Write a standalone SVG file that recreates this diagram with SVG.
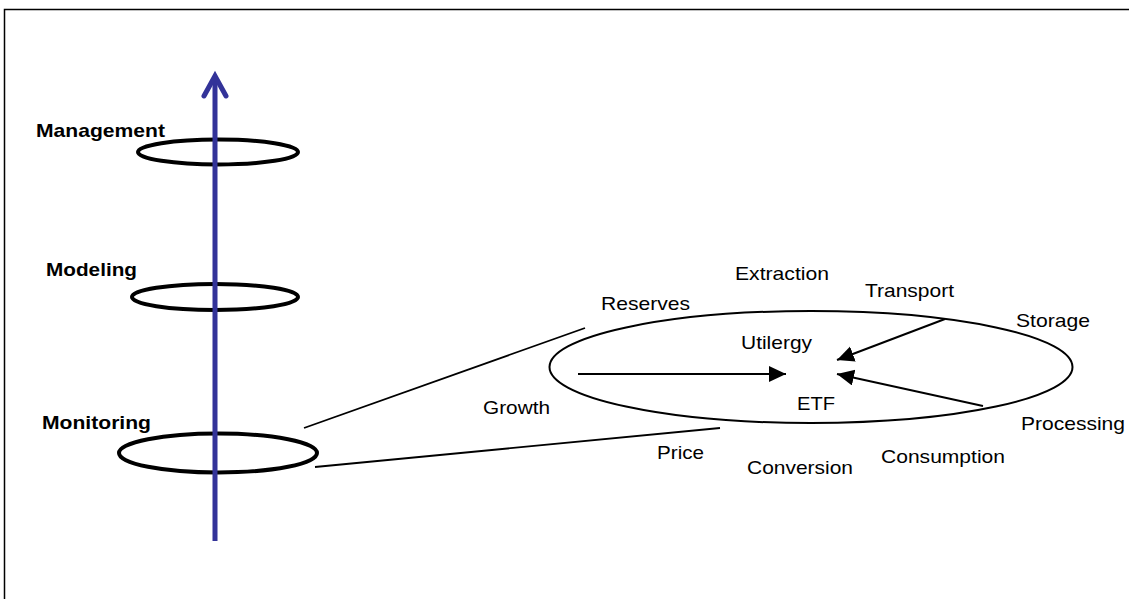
<svg xmlns="http://www.w3.org/2000/svg" width="1129" height="599" viewBox="0 0 1129 599">
  <style>
    .lbl { font-family: "Liberation Sans", Arial, sans-serif; font-size: 19px; fill: #000; }
    .bold { font-weight: bold; }
    .ring { fill: none; stroke: #000; stroke-width: 4; }
    .conn { fill: none; stroke: #000; stroke-width: 1.8; }
    .arr { fill: none; stroke: #000; stroke-width: 2; }
  </style>
  <defs>
    <marker id="tri" markerUnits="userSpaceOnUse" markerWidth="20" markerHeight="18" refX="17" refY="8" orient="auto">
      <path d="M0,0 L17,8 L0,16 Z" fill="#000"/>
    </marker>
  </defs>
  <rect x="0" y="0" width="1129" height="599" fill="#fff"/>
  <rect x="4.5" y="9.5" width="1140" height="610" fill="none" stroke="#000" stroke-width="1.5"/>

  <g id="management">
    <ellipse class="ring" cx="218" cy="152" rx="80" ry="12.5"/>
    <text class="lbl bold" x="36" y="137" textLength="129" lengthAdjust="spacingAndGlyphs">Management</text>
  </g>
  <g id="modeling">
    <ellipse class="ring" cx="215" cy="297" rx="83" ry="13"/>
    <text class="lbl bold" x="46" y="276" textLength="91" lengthAdjust="spacingAndGlyphs">Modeling</text>
  </g>
  <g id="monitoring">
    <ellipse class="ring" cx="218" cy="453" rx="99" ry="19.5"/>
    <text class="lbl bold" x="42" y="429" textLength="109" lengthAdjust="spacingAndGlyphs">Monitoring</text>
  </g>

  <g id="axis">
    <line x1="215" y1="541" x2="215" y2="78" stroke="#333399" stroke-width="5"/>
    <polyline points="204,96 215,76 226,96" fill="none" stroke="#333399" stroke-width="5" stroke-linecap="round" stroke-linejoin="miter"/>
  </g>

  <g id="etf-system">
    <ellipse cx="811" cy="367" rx="261.5" ry="56" fill="none" stroke="#000" stroke-width="2"/>
  </g>

  <g id="connectors">
    <line class="conn" x1="304" y1="428" x2="585" y2="328"/>
    <line class="conn" x1="315" y1="467" x2="720" y2="428"/>
    <line class="arr" x1="578" y1="374" x2="786" y2="374" marker-end="url(#tri)"/>
    <line class="arr" x1="945" y1="319" x2="837" y2="360" marker-end="url(#tri)"/>
    <line class="arr" x1="983" y1="406" x2="837" y2="374" marker-end="url(#tri)"/>
  </g>

  <g id="labels">
    <text class="lbl" x="735" y="280" textLength="94" lengthAdjust="spacingAndGlyphs">Extraction</text>
    <text class="lbl" x="865" y="297" textLength="89" lengthAdjust="spacingAndGlyphs">Transport</text>
    <text class="lbl" x="601" y="310" textLength="89" lengthAdjust="spacingAndGlyphs">Reserves</text>
    <text class="lbl" x="1016" y="327" textLength="74" lengthAdjust="spacingAndGlyphs">Storage</text>
    <text class="lbl" x="741" y="349" textLength="71" lengthAdjust="spacingAndGlyphs">Utilergy</text>
    <text class="lbl" x="797" y="410" textLength="38" lengthAdjust="spacingAndGlyphs">ETF</text>
    <text class="lbl" x="483" y="414" textLength="67" lengthAdjust="spacingAndGlyphs">Growth</text>
    <text class="lbl" x="1021" y="430" textLength="104" lengthAdjust="spacingAndGlyphs">Processing</text>
    <text class="lbl" x="657" y="459" textLength="47" lengthAdjust="spacingAndGlyphs">Price</text>
    <text class="lbl" x="747" y="474" textLength="106" lengthAdjust="spacingAndGlyphs">Conversion</text>
    <text class="lbl" x="881" y="463" textLength="124" lengthAdjust="spacingAndGlyphs">Consumption</text>
  </g>
</svg>
